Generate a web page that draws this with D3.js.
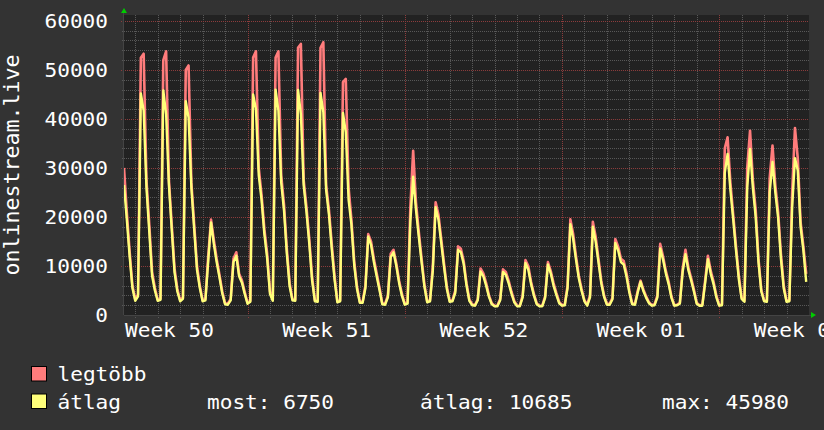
<!DOCTYPE html>
<html>
<head>
<meta charset="utf-8">
<script src="https://cdn.jsdelivr.net/npm/d3@7"></script>
<style>
  body { margin: 0; background: #333333; }
  svg { display: block; }
</style>
</head>
<body>
<svg id="chart" width="824" height="430"></svg>
<script>
// --- data (3-hourly samples, first one 2024-12-10 12:00 UTC) ---
const startTime = Date.UTC(2024, 11, 10, 12);
const endTime = Date.UTC(2025, 0, 10, 0);
const stepHours = 3;

// "legtöbb" (max)
const maxValues = [
  30000, 21000, 13000, 6000,                                // Dec 10
  3200, 4200, 52500, 53300, 27500, 18500, 8800, 5500,       // Dec 11
  3100, 3300, 52000, 53800, 27500, 18500, 9500, 5300,       // Dec 12
  3000, 3600, 50000, 50900, 27000, 18500, 10000, 6000,      // Dec 13
  3000, 3300, 12000, 19450, 15300, 11500, 8200, 4800,       // Dec 14
  2400, 2300, 3300, 11500, 12800, 8400, 7100, 4700,         // Dec 15
  2500, 2900, 52500, 53800, 30000, 24500, 17500, 12500,     // Dec 16
  4800, 3100, 52500, 53800, 28500, 22500, 13500, 6500,      // Dec 17
  3200, 3100, 54500, 55300, 27500, 22000, 15500, 7800,      // Dec 18
  3000, 2900, 54500, 55650, 26500, 21500, 14500, 8000,      // Dec 19
  2800, 3000, 47500, 48160, 26000, 19500, 11000, 5800,      // Dec 20
  2700, 2700, 6000, 16500, 15000, 11500, 8500, 5600,        // Dec 21
  2400, 2300, 4000, 12500, 13300, 10500, 7000, 4300,        // Dec 22
  2300, 2500, 22000, 33500, 23000, 17000, 11500, 6300,      // Dec 23
  2800, 3000, 10000, 23000, 20500, 15500, 10500, 5800,      // Dec 24
  2900, 3000, 5000, 14000, 13500, 11000, 6500, 3200,        // Dec 25
  2200, 2000, 3200, 9500, 8500, 6500, 4000, 2400,           // Dec 26
  1900, 1900, 3300, 9300, 8800, 7000, 4800, 2900,           // Dec 27
  1900, 1900, 4000, 11200, 10000, 6800, 4300, 2400,         // Dec 28
  1900, 1900, 3800, 10800, 9000, 6500, 4500, 2700,          // Dec 29
  2000, 2100, 6000, 19500, 16500, 12000, 8000, 5300,        // Dec 30
  3000, 2100, 4000, 19000, 16000, 11500, 7000, 4000,        // Dec 31
  2300, 2300, 3500, 15500, 14000, 11500, 11000, 8500,       // Jan 1
  5000, 2400, 2300, 5000, 7000, 5200, 3800, 2600,           // Jan 2
  2000, 2200, 4000, 14500, 12000, 9000, 6800, 3800,         // Jan 3
  2000, 2100, 2500, 9500, 13300, 9800, 7600, 5200,          // Jan 4
  2500, 2000, 2100, 7000, 12100, 9000, 6800, 4000,          // Jan 5
  2000, 2200, 34000, 36260, 27000, 20500, 14000, 8000,      // Jan 6
  3600, 2900, 30000, 37600, 27500, 21500, 11500, 5200,      // Jan 7
  3000, 2900, 28000, 34560, 26500, 21000, 12500, 6000,      // Jan 8
  2900, 3000, 25000, 38160, 32000, 19000, 14000, 8400       // Jan 9
];

// "átlag" (average)
const avgValues = [
  26500, 19500, 12000, 5500,                                // Dec 10
  2900, 3800, 45200, 41700, 26000, 17000, 8000, 5000,       // Dec 11
  2900, 3100, 45800, 41000, 26500, 17500, 8700, 4800,       // Dec 12
  2800, 3300, 43600, 40300, 26000, 17500, 9200, 5500,       // Dec 13
  2800, 3000, 11000, 18900, 14500, 10800, 7700, 4400,       // Dec 14
  2200, 2100, 3000, 10800, 12100, 7900, 6600, 4300,         // Dec 15
  2300, 2700, 45000, 42000, 28500, 23500, 16500, 11500,     // Dec 16
  4300, 2900, 45980, 41700, 27000, 21300, 12500, 5800,      // Dec 17
  3000, 2900, 45900, 41000, 26500, 21000, 14500, 7000,      // Dec 18
  2800, 2700, 45300, 41400, 25500, 20500, 13500, 7200,      // Dec 19
  2600, 2800, 41200, 37300, 23500, 18500, 10200, 5300,      // Dec 20
  2500, 2500, 5500, 16000, 14300, 10800, 7900, 5100,        // Dec 21
  2200, 2100, 3600, 11800, 12800, 10000, 6500, 3900,        // Dec 22
  2100, 2300, 19000, 28200, 21500, 16000, 10800, 5800,      // Dec 23
  2600, 2800, 9000, 22000, 19500, 14700, 9800, 5300,        // Dec 24
  2700, 2800, 4500, 13300, 12800, 10400, 6000, 2900,        // Dec 25
  2000, 1900, 3000, 8900, 7900, 6000, 3700, 2200,           // Dec 26
  1800, 1800, 3000, 8800, 8200, 6500, 4400, 2600,           // Dec 27
  1800, 1800, 3600, 10600, 9300, 6300, 4000, 2200,          // Dec 28
  1800, 1800, 3500, 10300, 8500, 6000, 4100, 2400,          // Dec 29
  1900, 2000, 5500, 18500, 15500, 11300, 7500, 4900,        // Dec 30
  2800, 1900, 3600, 18000, 15000, 10800, 6500, 3700,        // Dec 31
  2100, 2100, 3200, 14700, 13200, 10800, 10300, 7800,       // Jan 1
  4600, 2200, 2100, 4600, 6800, 4900, 3500, 2400,           // Jan 2
  1900, 2000, 3600, 13600, 11300, 8500, 6300, 3500,         // Jan 3
  1900, 2000, 2300, 8800, 12400, 9200, 7100, 4800,          // Jan 4
  2300, 1900, 1900, 6500, 11400, 8400, 6300, 3600,          // Jan 5
  1900, 2000, 29000, 32860, 25500, 19500, 13200, 7300,      // Jan 6
  3300, 2700, 26000, 33880, 26000, 20000, 10800, 4800,      // Jan 7
  2800, 2700, 25000, 31200, 25000, 19800, 11500, 5400,      // Jan 8
  2700, 2800, 22000, 32000, 29500, 18000, 13200, 6750       // Jan 9
];

const yTicks = [0, 10000, 20000, 30000, 40000, 50000, 60000];
const yMinorStep = 2000;
const yTop = 61200;
const weekStarts = ["2024-12-09", "2024-12-16", "2024-12-23", "2024-12-30", "2025-01-06"];
const weekLabels = ["Week 50", "Week 51", "Week 52", "Week 01", "Week 02"];
const yTitle = "onlinestream.live";
const legendNames = ["legtöbb", "átlag"];
const legendStats = ["most: 6750", "átlag: 10685", "max: 45980"];

// --- layout ---
const svg = d3.select("#chart");
const plot = { left: 124, right: 809, top: 15, bottom: 315 };
const FONT = "DejaVu Sans Mono";
const CHAR_W = 12.7;
const colors = { max: "#ff7c7c", avg: "#ffff7a", grid: "#585858", mgrid: "#8c3c3c", text: "#ffffff" };

const xScale = d3.scaleUtc().domain([startTime, endTime]).range([plot.left, plot.right]);
const yScale = d3.scaleLinear().domain([0, yTop]).range([plot.bottom, plot.top]);

const toSeries = (values) => values.map((v, i) => ({ t: startTime + i * stepHours * 3600e3, v }));

svg.append("rect").attr("width", 824).attr("height", 430).attr("fill", "#333333");
svg.append("rect")
  .attr("x", plot.left).attr("y", plot.top)
  .attr("width", plot.right - plot.left).attr("height", plot.bottom - plot.top)
  .attr("fill", "#222222");

// grid
const grid = svg.append("g").attr("stroke-dasharray", "1,1").attr("stroke-width", 1).attr("shape-rendering", "crispEdges");
const mondays = d3.utcMonday.range(new Date(startTime), new Date(endTime));
const days = d3.utcDay.range(new Date(startTime), new Date(endTime)).filter(d => d.getUTCDay() !== 1);
const yMinor = d3.range(yMinorStep, yTop, yMinorStep).filter(v => v % 10000 !== 0);

grid.selectAll(".vmin").data(days).join("line")
  .attr("x1", d => Math.round(xScale(d)) + 0.5).attr("x2", d => Math.round(xScale(d)) + 0.5)
  .attr("y1", plot.top).attr("y2", plot.bottom + 3)
  .attr("stroke", colors.grid);
grid.selectAll(".hmin").data(yMinor).join("line")
  .attr("x1", plot.left - 2).attr("x2", plot.right)
  .attr("y1", d => Math.round(yScale(d)) + 0.5).attr("y2", d => Math.round(yScale(d)) + 0.5)
  .attr("stroke", colors.grid);
grid.selectAll(".vmaj").data(mondays).join("line")
  .attr("x1", d => Math.round(xScale(d)) + 0.5).attr("x2", d => Math.round(xScale(d)) + 0.5)
  .attr("y1", plot.top).attr("y2", plot.bottom + 4)
  .attr("stroke", colors.mgrid);
grid.selectAll(".hmaj").data(yTicks.filter(v => v > 0)).join("line")
  .attr("x1", plot.left - 3).attr("x2", plot.right)
  .attr("y1", d => Math.round(yScale(d)) + 0.5).attr("y2", d => Math.round(yScale(d)) + 0.5)
  .attr("stroke", colors.mgrid);

// axis lines + arrows
svg.append("line").attr("x1", plot.left).attr("x2", plot.right + 3)
  .attr("y1", plot.bottom + 0.5).attr("y2", plot.bottom + 0.5).attr("stroke", "#444444");
svg.append("line").attr("x1", plot.left - 0.5).attr("x2", plot.left - 0.5)
  .attr("y1", plot.bottom).attr("y2", plot.top - 3).attr("stroke", "#444444");
svg.append("path").attr("d", `M${plot.left - 3},13 L${plot.left + 3},13 L${plot.left},8 Z`).attr("fill", "#00cc00");
svg.append("path").attr("d", `M${plot.right + 2},${plot.bottom - 3} L${plot.right + 2},${plot.bottom + 3} L${plot.right + 7},${plot.bottom} Z`).attr("fill", "#00cc00");

// lines
const clip = svg.append("clipPath").attr("id", "clip").append("rect")
  .attr("x", plot.left).attr("y", plot.top - 5)
  .attr("width", plot.right - plot.left).attr("height", plot.bottom - plot.top + 5);
const line = d3.line().x(d => xScale(d.t)).y(d => yScale(d.v));
const lines = svg.append("g").attr("clip-path", "url(#clip)").attr("fill", "none")
  .attr("stroke-linejoin", "round");
lines.append("path").attr("d", line(toSeries(maxValues))).attr("stroke", colors.max).attr("stroke-width", 2.6);
lines.append("path").attr("d", line(toSeries(avgValues))).attr("stroke", colors.avg).attr("stroke-width", 2.4);

// axes labels
const styleText = (sel, size) => sel
  .attr("font-family", FONT).attr("font-size", size).attr("fill", colors.text)
  .attr("textLength", function () { return this.textContent.length * CHAR_W; })
  .attr("lengthAdjust", "spacingAndGlyphs");

const yAxis = svg.append("g").attr("transform", `translate(${plot.left},0)`)
  .call(d3.axisLeft(yScale).tickValues(yTicks).tickSize(0).tickPadding(16).tickFormat(d3.format("d")));
yAxis.select(".domain").remove();
yAxis.selectAll("text").attr("dy", null).attr("y", 6.8).call(styleText, 19);

const labelDates = weekStarts.map(s => new Date(Date.parse(s + "T00:00:00Z") + 3.5 * 864e5));
const xAxis = svg.append("g").attr("transform", `translate(0,${plot.bottom})`)
  .call(d3.axisBottom(xScale).tickValues(labelDates).tickSize(0).tickPadding(0).tickFormat((d, i) => weekLabels[i]));
xAxis.select(".domain").remove();
xAxis.selectAll("text").attr("dy", null).attr("y", 22).call(styleText, 19);

svg.append("text").text(yTitle)
  .attr("transform", "translate(19,165) rotate(-90)")
  .attr("text-anchor", "middle")
  .attr("font-family", FONT).attr("font-size", 21).attr("fill", colors.text)
  .attr("textLength", 221).attr("lengthAdjust", "spacingAndGlyphs");

// legend
const legend = svg.append("g");
const legendColors = [colors.max, colors.avg];
legendNames.forEach((name, i) => {
  const y = 366 + i * 27.5;
  legend.append("rect").attr("x", 31.5).attr("y", y + 0.5).attr("width", 15).attr("height", 14.5)
    .attr("fill", legendColors[i]).attr("stroke", "#000000");
  legend.append("text").text(name).attr("x", 57.5).attr("y", y + 15).call(styleText, 19);
});
const statX = [207, 420, 662];
legendStats.forEach((s, i) => {
  legend.append("text").text(s).attr("x", statX[i]).attr("y", 408.5).call(styleText, 19);
});
</script>
</body>
</html>
